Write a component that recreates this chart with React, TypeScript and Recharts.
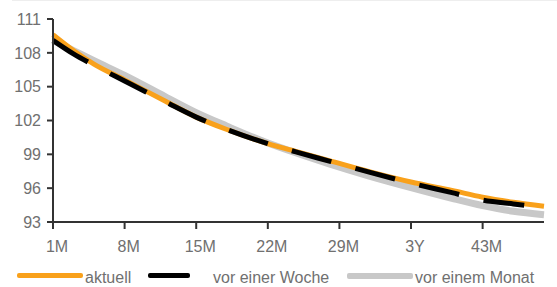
import React from "react";
import { LineChart, Line, XAxis, YAxis } from "recharts";

// Laufzeit in Monaten
const months = [1, 3, 5, 8, 12, 15, 18, 22, 25, 28, 32, 36, 40, 43, 46, 49];
const aktuell = [109.6, 108.2, 107.0, 105.6, 103.7, 102.3, 101.2, 99.95, 99.2, 98.45, 97.45, 96.55, 95.8, 95.2, 94.75, 94.4];
const vorEinerWoche = [109.1, 107.9, 106.9, 105.5, 103.65, 102.3, 101.2, 99.95, 99.15, 98.4, 97.4, 96.45, 95.6, 94.95, 94.6, 94.3];
const vorEinemMonat = [109.1, 108.2, 107.3, 106.0, 104.1, 102.7, 101.5, 100.0, 99.05, 98.15, 97.05, 96.05, 95.1, 94.45, 93.95, 93.65];

const xTicks = [1, 8, 15, 22, 29, 36, 43];
const yTicks = [93, 96, 99, 102, 105, 108, 111];

const ORANGE = "#f9a11b";
const BLACK = "#000000";
const GREY = "#c8c8c8";
const TEXT = "#707070";
const FONT = "'Liberation Sans', Arial, sans-serif";

const data = months.map((m, i) => ({
  m,
  aktuell: aktuell[i],
  woche: vorEinerWoche[i],
  monat: vorEinemMonat[i],
}));

const legendItems = [
  { label: "aktuell", color: ORANGE, swatchX: 17, swatchW: 66, textX: 85, width: 5 },
  { label: "vor einer Woche", color: BLACK, swatchX: 148, swatchW: 42, textX: 213, width: 5 },
  { label: "vor einem Monat", color: GREY, swatchX: 347, swatchW: 66, textX: 415, width: 6 },
];

const fmtMonth = (m: number) => (m === 36 ? "3Y" : `${m}M`);

const App = () => {
  return (
    <div style={{ position: "fixed", left: 0, top: 0, width: 557, height: 287, background: "#fff", fontFamily: FONT }}>
      <div style={{ position: "absolute", left: 12, top: 0, width: 545, height: 1, background: "#eeeeee" }} />
      <LineChart width={557} height={287} data={data} margin={{ top: 19, right: 13, bottom: 35, left: 0 }}>
        <XAxis
          dataKey="m"
          type="number"
          domain={[1, 49]}
          ticks={xTicks}
          tickFormatter={fmtMonth}
          axisLine={{ stroke: "#333", strokeWidth: 2 }}
          tickLine={{ stroke: "#333", strokeWidth: 2 }}
          tickSize={7}
          tickMargin={12}
          tick={{ fill: TEXT, fontSize: 16, fontFamily: FONT, dx: 4 }}
          height={30}
          interval={0}
        />
        <YAxis
          type="number"
          domain={[93, 111]}
          ticks={yTicks}
          axisLine={{ stroke: "#333", strokeWidth: 2 }}
          tickLine={{ stroke: "#333", strokeWidth: 2 }}
          tickSize={6}
          tickMargin={6}
          tick={{ fill: TEXT, fontSize: 16, fontFamily: FONT }}
          width={53}
          interval={0}
        />
        <Line type="monotone" dataKey="monat" stroke={GREY} strokeWidth={7} dot={false} isAnimationActive={false} />
        <Line type="monotone" dataKey="aktuell" stroke={ORANGE} strokeWidth={5} dot={false} isAnimationActive={false} />
        <Line
          type="monotone"
          dataKey="woche"
          stroke={BLACK}
          strokeWidth={5}
          strokeDasharray="41 25"
          dot={false}
          isAnimationActive={false}
        />
      </LineChart>
      {legendItems.map((it) => (
        <React.Fragment key={it.label}>
          <div
            style={{
              position: "absolute",
              left: it.swatchX,
              top: 275.5 - it.width / 2,
              width: it.swatchW,
              height: it.width,
              background: it.color,
              borderRadius: 2,
            }}
          />
          <div
            style={{
              position: "absolute",
              left: it.textX,
              top: 270,
              fontSize: 16,
              color: TEXT,
              lineHeight: "16px",
              whiteSpace: "nowrap",
            }}
          >
            {it.label}
          </div>
        </React.Fragment>
      ))}
    </div>
  );
};

export default App;
